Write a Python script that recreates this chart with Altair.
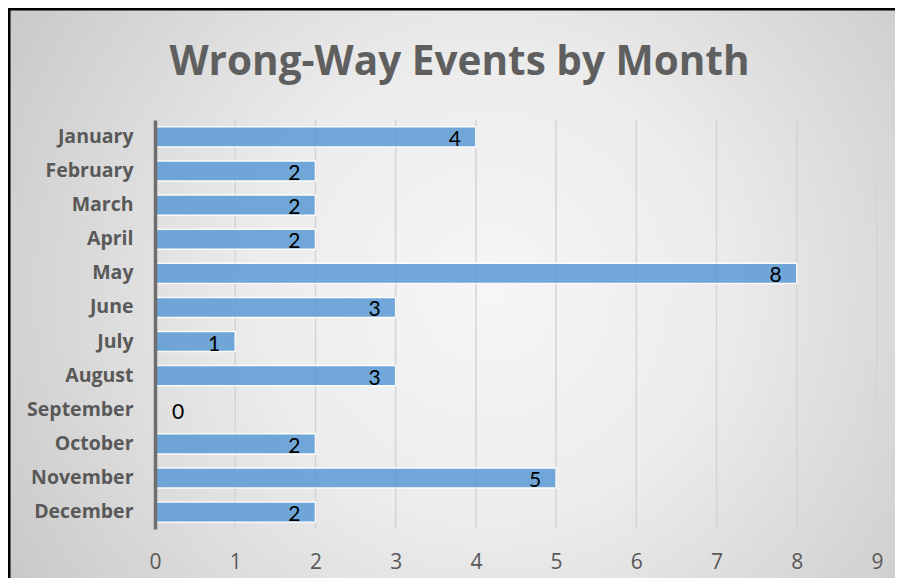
import altair as alt
import pandas as pd

months = ["January", "February", "March", "April", "May", "June", "July",
          "August", "September", "October", "November", "December"]
events = [4, 2, 2, 2, 8, 3, 1, 3, 0, 2, 5, 2]
ticks = [1, 2, 3, 4, 5, 6, 7, 8, 9]
title_text = ["Wrong-Way Events by Month"]

df = pd.DataFrame({"month": months, "events": events})
grid_df = pd.DataFrame({"t": ticks})
one = pd.DataFrame({"a": [0]})
title_df = pd.DataFrame({"title": title_text})

W, H = 722, 409
PL, PT, PR, PB = 147, 112, 18, 49

FONT = "Open Sans"
LFONT = "Lato"
GREY = "#595959"

xscale = alt.Scale(domain=[0, 9], nice=False, zero=True)
yscale = alt.Scale(paddingInner=0.41, paddingOuter=0.2)

bg = alt.Chart(one).mark_rect(
    fill={
        "gradient": "radial",
        "x1": 0.54, "y1": 0.5, "r1": 0,
        "x2": 0.54, "y2": 0.5, "r2": 0.75,
        "stops": [
            {"offset": 0, "color": "#f6f6f6"},
            {"offset": 0.35, "color": "#ececec"},
            {"offset": 1, "color": "#bdbdbd"},
        ],
    }
).encode(
    x=alt.value(-PL), x2=alt.value(W + PR),
    y=alt.value(-PT), y2=alt.value(H + PB),
)

border_left = alt.Chart(one).mark_rule(color="black", strokeWidth=3).encode(
    x=alt.value(-PL + 1), y=alt.value(-PT), y2=alt.value(H + PB)
)
border_top = alt.Chart(one).mark_rule(color="black", strokeWidth=3).encode(
    y=alt.value(-PT + 1), x=alt.value(-PL), x2=alt.value(W + PR)
)

title = alt.Chart(title_df).mark_text(
    font=FONT, fontSize=40.5, fontWeight="bold", color="#5f5f5f",
    align="center", baseline="alphabetic"
).encode(text="title:N", x=alt.value(304.5), y=alt.value(-45))

grid = alt.Chart(grid_df).mark_rule(color="#d4d4d4", strokeWidth=1.5).encode(
    x=alt.X("t:Q", scale=xscale),
    y=alt.value(0), y2=alt.value(H),
)

base = alt.Chart(df).encode(
    y=alt.Y("month:N", sort=months, scale=yscale,
            axis=alt.Axis(title=None, labelFont=FONT, labelFontWeight="bold",
                          labelFontSize=19.5, labelColor=GREY, labelPadding=22,
                          ticks=False, domainColor="#6e6e6e", domainWidth=3.5,
                          grid=False, zindex=1)),
)

bars = base.mark_bar(color="#5B9BD5", opacity=0.85, stroke="white",
                     strokeWidth=1.5, strokeOpacity=1).encode(
    x=alt.X("events:Q", scale=xscale,
            axis=alt.Axis(title=None, values=[0] + ticks, format="d",
                          labelFont=FONT, labelFontSize=21, labelColor=GREY,
                          labelPadding=22, labelFlush=False, ticks=False,
                          domain=False, grid=False, zindex=1)),
)

labels = base.transform_filter("datum.events > 0").mark_text(
    align="right", baseline="middle", dx=-15, dy=3, font=LFONT, fontSize=21,
    color="black"
).encode(x=alt.X("events:Q", scale=xscale), text="events:Q")

zero_labels = base.transform_filter("datum.events == 0").mark_text(
    align="left", baseline="middle", dx=17, dy=3, font=LFONT, fontSize=21,
    color="black"
).encode(x=alt.X("events:Q", scale=xscale), text="events:Q")

chart = alt.layer(bg, border_left, border_top, title, grid, bars, labels,
                  zero_labels).properties(
    width=W, height=H,
    autosize=alt.AutoSizeParams(type="none"),
    padding={"left": PL, "top": PT, "right": PR, "bottom": PB},
).configure_view(stroke=None).configure(background="white")

chart.save("out.html", embed_options={"renderer": "svg", "actions": False})
